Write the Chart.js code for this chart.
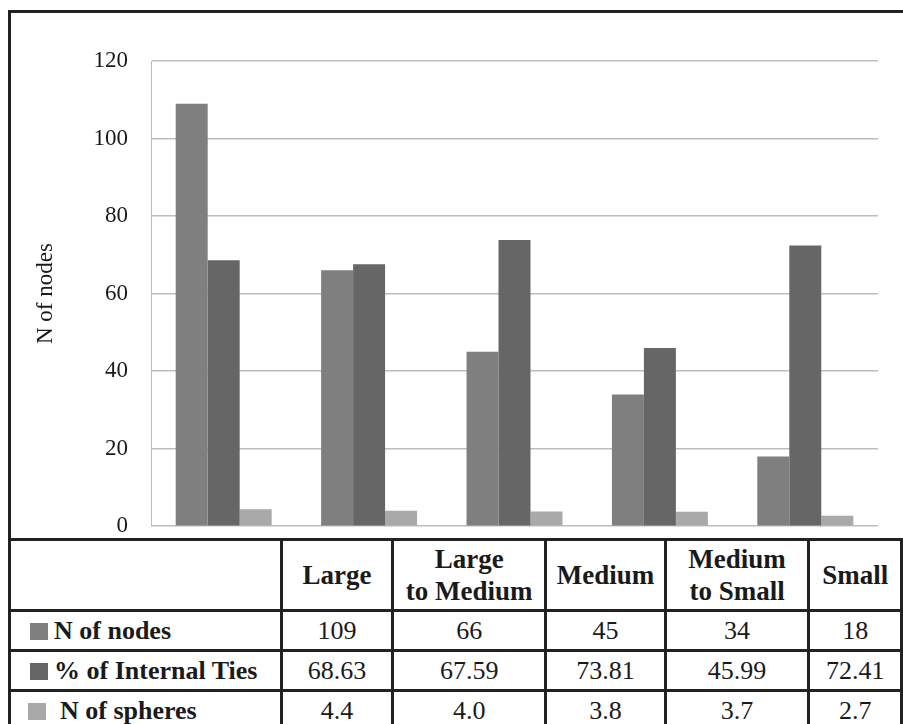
<!DOCTYPE html>
<html>
<head>
<meta charset="utf-8">
<script src="https://cdn.jsdelivr.net/npm/chart.js@4/dist/chart.umd.min.js"></script>
<style>
  body { margin: 0; background: #fff; width: 903px; height: 724px; overflow: hidden; position: relative; }
  .frame { position: absolute; left: 8px; top: 10px; width: 920px; height: 800px; border-left: 3px solid #222; border-top: 3px solid #222; }
  .chartBox { position: absolute; left: 11px; top: 13px; width: 892px; height: 527px; }
  table { position: absolute; left: 8px; top: 538px; border-collapse: separate; border-spacing: 0; table-layout: fixed; background: #fff;
          border-top: 3px solid #222; border-left: 3px solid #222; font-family: 'Liberation Serif', 'Times New Roman', serif; color: #1a1a1a; }
  td { border-right: 3px solid #222; border-bottom: 3px solid #222; box-sizing: border-box; padding: 0; text-align: center; font-size: 26px; white-space: nowrap; overflow: hidden; }
  .head td { height: 71px; font-weight: bold; font-size: 27px; line-height: 32px; }
  .row td { height: 40px; line-height: 36px; }
  td.lbl { text-align: left; font-weight: bold; padding-left: 19px; }
  .sw { display: inline-block; width: 18px; height: 17px; margin-right: 6px; vertical-align: -1px; }
</style>
</head>
<body>
<div class="frame"></div>
<div class="chartBox"><canvas id="c"></canvas></div>
<table id="tbl"></table>
<script>
// 데이터
var categories = ['Large', 'Large\nto Medium', 'Medium', 'Medium\nto Small', 'Small'];
var nodes = [109, 66, 45, 34, 18];
var internalTies = [68.63, 67.59, 73.81, 45.99, 72.41];
var spheres = [4.4, 4.0, 3.8, 3.7, 2.7];
var yTicks = [0, 20, 40, 60, 80, 100, 120];

var seriesNames = ['N of nodes', '% of Internal Ties', 'N of spheres'];
var seriesColors = ['#7f7f7f', '#666666', '#a9a9a9'];
var seriesDigits = [0, 2, 1];
var seriesData = [nodes, internalTies, spheres];

var serif = "'Liberation Serif', 'Times New Roman', serif";

// 차트 생성
var chart = new Chart(document.getElementById('c').getContext('2d'), {
  type: 'bar',
  data: {
    labels: categories.map(function (c) { return c.split('\n'); }),
    datasets: seriesData.map(function (d, i) {
      return {
        label: seriesNames[i],
        data: d,
        backgroundColor: seriesColors[i],
        borderWidth: 0,
        barPercentage: 1.0,
        categoryPercentage: 0.66
      };
    })
  },
  options: {
    responsive: true,
    maintainAspectRatio: false,
    animation: false,
    layout: { padding: { top: 48, right: 25, left: 0, bottom: 12 } },
    plugins: { legend: { display: false }, tooltip: { enabled: false } },
    scales: {
      x: { display: false },
      y: {
        min: 0,
        max: 120,
        afterBuildTicks: function (s) { s.ticks = yTicks.map(function (v) { return { value: v }; }); },
        ticks: { font: { family: serif, size: 23 }, color: '#1a1a1a', padding: 0 },
        // tick marks kept invisible, only used as the gap between labels and the axis
        grid: { color: '#bdbdbd', lineWidth: 1.5, drawTicks: true, tickLength: 23, tickColor: 'rgba(0,0,0,0)' },
        border: { color: '#bdbdbd', width: 1 },
        title: { display: true, text: 'N of nodes', font: { family: serif, size: 23 }, color: '#1a1a1a', padding: { top: 21, bottom: 0 } },
        afterFit: function (s) { s.width = 140; }
      }
    }
  }
});

// 표 만들기
var colWidths = [273, 114, 154, 121, 146, 94];
var tbl = document.getElementById('tbl');
var html = '<tr class="head"><td style="width:' + colWidths[0] + 'px"></td>';
categories.forEach(function (c, i) {
  html += '<td style="width:' + colWidths[i + 1] + 'px">' + c.replace('\n', '<br>') + '</td>';
});
html += '</tr>';
seriesData.forEach(function (d, i) {
  var pad = i === 2 ? ' style="padding-left:17px"' : '';
  var sw = 'background:' + seriesColors[i] + (i === 2 ? ';margin-right:14px' : '');
  html += '<tr class="row"><td class="lbl"' + pad + '><span class="sw" style="' + sw + '"></span>' + seriesNames[i] + '</td>';
  d.forEach(function (v) { html += '<td>' + v.toFixed(seriesDigits[i]) + '</td>'; });
  html += '</tr>';
});
tbl.innerHTML = html;
</script>
</body>
</html>
